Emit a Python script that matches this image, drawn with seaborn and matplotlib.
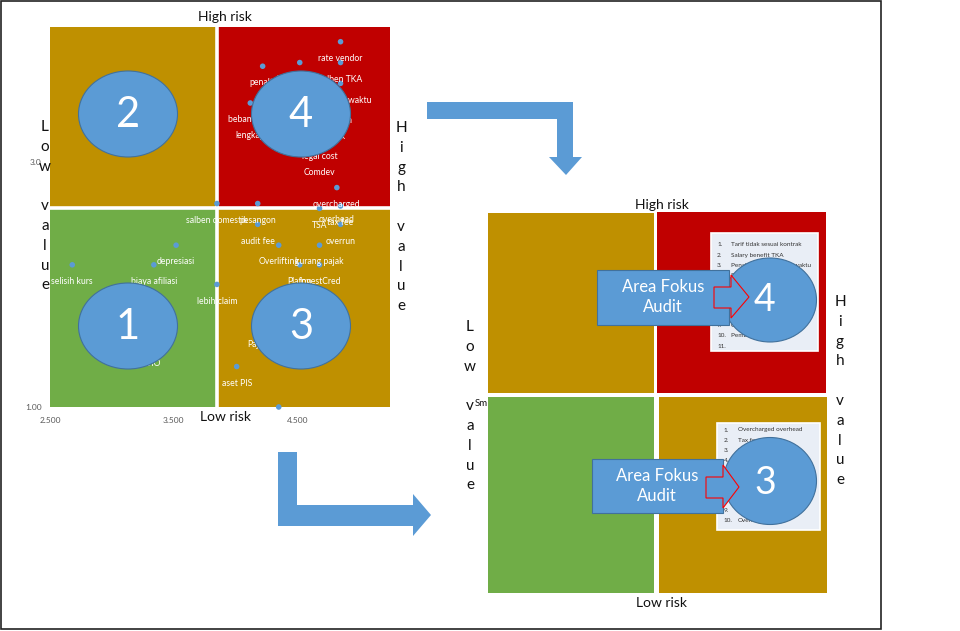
import numpy as np
import pandas as pd
import matplotlib
matplotlib.use("Agg")
import matplotlib.pyplot as plt
from matplotlib.patches import Rectangle, Ellipse, Polygon
import seaborn as sns

# ---------------- data ----------------
item_labels = [
    "rate vendor", "salben TKA", "terlambat waktu", "penalti", "klaim ganda",
    "beban tidak\nlengkap", "bayar lebih\nkontrak", "legal cost\nComdev",
    "overcharged\noverhead", "salben domestik", "pesangon", "TSA", "tax fee",
    "audit fee", "overrun", "depresiasi", "Overlifting", "kurang pajak",
    "selisih kurs", "biaya afiliasi", "Plafon", "InvestCred", "lebih claim",
    "aset PIS", "ROIO", "Pajak", "",
]
value_score = [
    4.85, 4.85, 4.85, 4.22, 4.52,
    4.12, 4.77, 4.68,
    4.82, 3.85, 4.18, 4.68, 4.85,
    4.18, 4.85, 3.52, 4.35, 4.68,
    2.68, 3.34, 4.52, 4.68, 3.85,
    4.01, 3.31, 4.18, 4.35,
]
risk_score = [
    3.98, 3.81, 3.64, 3.78, 3.81,
    3.48, 3.47, 3.18,
    2.79, 2.66, 2.66, 2.62, 2.64,
    2.49, 2.49, 2.32, 2.32, 2.32,
    2.16, 2.16, 2.16, 2.16, 2.00,
    1.33, 1.49, 1.65, 1.00,
]
value_ticks = [2.5, 3.5, 4.5]
value_tick_labels = ["2.500", "3.500", "4.500"]
risk_ticks = [1.0, 3.0]
risk_tick_labels = ["1.00", "3.0"]
value_range = (2.5, 5.25)
risk_range = (1.0, 4.1)
value_mid = 3.85
risk_mid = 2.62

focus_list_4 = [
    "Tarif tidak sesuai kontrak", "Salary benefit TKA", "Penalti keterlambatan waktu",
    "Pembayaran lebih", "Beban tidak lengkap", "Kelebihan kontrak", "Legal cost",
    "Comdev", "Overcharged", "Pembebanan fasilitas", "",
]
focus_list_3 = [
    "Overcharged overhead", "Tax fee", "TSA", "Pesangon", "Audit fee",
    "Overlifting", "Kurang pajak", "InvestCred", "Aset PIS", "Overrun",
]

# ---------------- style ----------------
sns.set_style("white")
plt.rcParams['font.family'] = ['Lato', 'DejaVu Sans']

GOLD = "#BF9000"
RED = "#C00000"
GREEN = "#70AD47"
BLUE = "#5B9BD5"
BLUE_EDGE = "#41719C"

W, H = 960, 631
fig = plt.figure(figsize=(9.6, 6.31), dpi=100)


def fax(l, t, w, h):
    return [l / W, 1 - (t + h) / H, w / W, h / H]


# ---------------- left scatter matrix ----------------
ax = fig.add_axes(fax(50, 27, 340, 380))
ax.set_xlim(*value_range)
ax.set_ylim(*risk_range)
x0, x1 = value_range
y0, y1 = risk_range
for (xa, xb, ya, yb, c) in [
    (x0, value_mid, y0, risk_mid, GREEN),
    (value_mid, x1, y0, risk_mid, GOLD),
    (x0, value_mid, risk_mid, y1, GOLD),
    (value_mid, x1, risk_mid, y1, RED),
]:
    ax.add_patch(Rectangle((xa, ya), xb - xa, yb - ya, facecolor=c,
                           edgecolor="none", zorder=0))
ax.axvline(value_mid, color="white", lw=2.6, zorder=1)
ax.axhline(risk_mid, color="white", lw=2.6, zorder=1)

df = pd.DataFrame({"label": item_labels, "value": value_score, "risk": risk_score})
sns.scatterplot(data=df, x="value", y="risk", ax=ax, color=BLUE, s=16,
                edgecolor="none", zorder=3, clip_on=False, legend=False)
for lab, xv, yv in zip(item_labels, value_score, risk_score):
    if lab:
        ax.annotate(lab, (xv, yv), xytext=(0, -8.8), textcoords="offset points",
                    ha="center", va="top", fontsize=6.2, color="white",
                    linespacing=1.95, zorder=4)

ax.set_xticks(value_ticks)
ax.set_xticklabels(value_tick_labels)
ax.set_yticks(risk_ticks)
ax.set_yticklabels(risk_tick_labels)
ax.tick_params(axis="both", length=0, labelsize=6, labelcolor="#595959")
ax.tick_params(axis="x", pad=7)
ax.tick_params(axis="y", pad=6)
ax.set_xlabel("")
ax.set_ylabel("")
sns.despine(ax=ax, left=True, bottom=True, top=True, right=True)

# ---------------- overlay (pixel coords) ----------------
ov = fig.add_axes([0, 0, 1, 1])
ov.set_xlim(0, W)
ov.set_ylim(H, 0)
ov.axis("off")
ov.patch.set_alpha(0)
ov.set_zorder(5)

# outer frame
ov.add_patch(Rectangle((1, 1), 880, 628, fill=False, edgecolor="#222222", lw=1.2))

# left axis texts
ov.text(225, 17, "High risk", ha="center", va="center", fontsize=10, color="#111111")
ov.text(226, 417, "Low risk", ha="center", va="center", fontsize=10, color="#111111")


def vtext(x, y, s, step=19.8, fs=11):
    for i, ch in enumerate(s):
        if ch != " ":
            ov.text(x, y + i * step, ch, ha="center", va="center", fontsize=fs,
                    color="#111111")


vtext(45, 127, "Low value")
vtext(401, 128, "High value")

# left ellipses
for (cx, cy, num) in [(128, 114, "2"), (301, 114, "4"), (128, 326, "1"), (301, 326, "3")]:
    ov.add_patch(Ellipse((cx, cy), 99, 86, facecolor=BLUE, edgecolor=BLUE_EDGE,
                         lw=0.8, zorder=3))
    ov.text(cx, cy + 1, num, ha="center", va="center", fontsize=30, color="white",
            zorder=4)

# big bent arrows
ov.add_patch(Polygon([(427, 102), (573, 102), (573, 157), (582, 157), (566, 175),
                      (549, 157), (557, 157), (557, 119), (427, 119)],
                     closed=True, facecolor=BLUE, edgecolor="none", zorder=2))
ov.add_patch(Polygon([(278, 452), (297, 452), (297, 505), (413, 505), (413, 494),
                      (431, 515), (413, 536), (413, 526), (278, 526)],
                     closed=True, facecolor=BLUE, edgecolor="none", zorder=2))

# ---------------- right matrix ----------------
ov.text(475, 403, "Sm", ha="left", va="center", fontsize=7, color="#111111", zorder=0.5)
for (l, t, r, b, c) in [(488, 213, 654, 393, GOLD), (657, 212, 826, 393, RED),
                        (488, 397, 654, 593, GREEN), (659, 397, 827, 593, GOLD)]:
    ov.add_patch(Rectangle((l, t), r - l, b - t, facecolor=c, edgecolor="none", zorder=1))

ov.text(662, 205, "High risk", ha="center", va="center", fontsize=10, color="#111111")
ov.text(661, 603, "Low risk", ha="center", va="center", fontsize=10, color="#111111")
vtext(470, 327, "Low value")
vtext(840, 302, "High value")

# list boxes
ov.add_patch(Rectangle((711, 233), 107, 118, facecolor="#E9EEF6", edgecolor="white",
                       lw=1.2, zorder=2))
for i, item in enumerate(focus_list_4):
    yy = 245 + i * 10.1
    ov.text(717, yy, f"{i + 1}.", ha="left", va="center", fontsize=4.6,
            color="#333333", zorder=2.5)
    ov.text(731, yy, item, ha="left", va="center", fontsize=4.6, color="#333333",
            zorder=2.5)
ov.add_patch(Rectangle((717, 423), 103, 107, facecolor="#E9EEF6", edgecolor="white",
                       lw=1.2, zorder=2))
for i, item in enumerate(focus_list_3):
    yy = 430 + i * 10.0
    ov.text(724, yy, f"{i + 1}.", ha="left", va="center", fontsize=4.6,
            color="#333333", zorder=2.5)
    ov.text(738, yy, item, ha="left", va="center", fontsize=4.6, color="#333333",
            zorder=2.5)

# right ellipses
ov.add_patch(Ellipse((770, 300), 93, 84, facecolor=BLUE, edgecolor=BLUE_EDGE, lw=0.8,
                     zorder=3))
ov.text(765, 300, "4", ha="center", va="center", fontsize=27, color="white", zorder=3.5)
ov.add_patch(Ellipse((770, 481), 93, 87, facecolor=BLUE, edgecolor=BLUE_EDGE, lw=0.8,
                     zorder=3))
ov.text(765, 483, "3", ha="center", va="center", fontsize=27, color="white", zorder=3.5)

# callouts
ov.add_patch(Rectangle((597, 270), 132, 55, facecolor=BLUE, edgecolor=BLUE_EDGE,
                       lw=0.8, zorder=4))
ov.text(663, 297, "Area Fokus\nAudit", ha="center", va="center", fontsize=12,
        color="white", linespacing=1.25, zorder=4.5)
ov.add_patch(Polygon([(714, 287), (731, 287), (731, 275), (749, 297), (731, 318),
                      (731, 308), (714, 308)], closed=True, facecolor=BLUE,
                     edgecolor="#FF0000", lw=0.8, zorder=5))

ov.add_patch(Rectangle((592, 459), 131, 54, facecolor=BLUE, edgecolor=BLUE_EDGE,
                       lw=0.8, zorder=4))
ov.text(657, 486, "Area Fokus\nAudit", ha="center", va="center", fontsize=12,
        color="white", linespacing=1.25, zorder=4.5)
ov.add_patch(Polygon([(706, 477), (723, 477), (723, 465), (739, 487), (723, 508),
                      (723, 498), (706, 498)], closed=True, facecolor=BLUE,
                     edgecolor="#FF0000", lw=0.8, zorder=5))

fig.savefig("out.png", dpi=100)
